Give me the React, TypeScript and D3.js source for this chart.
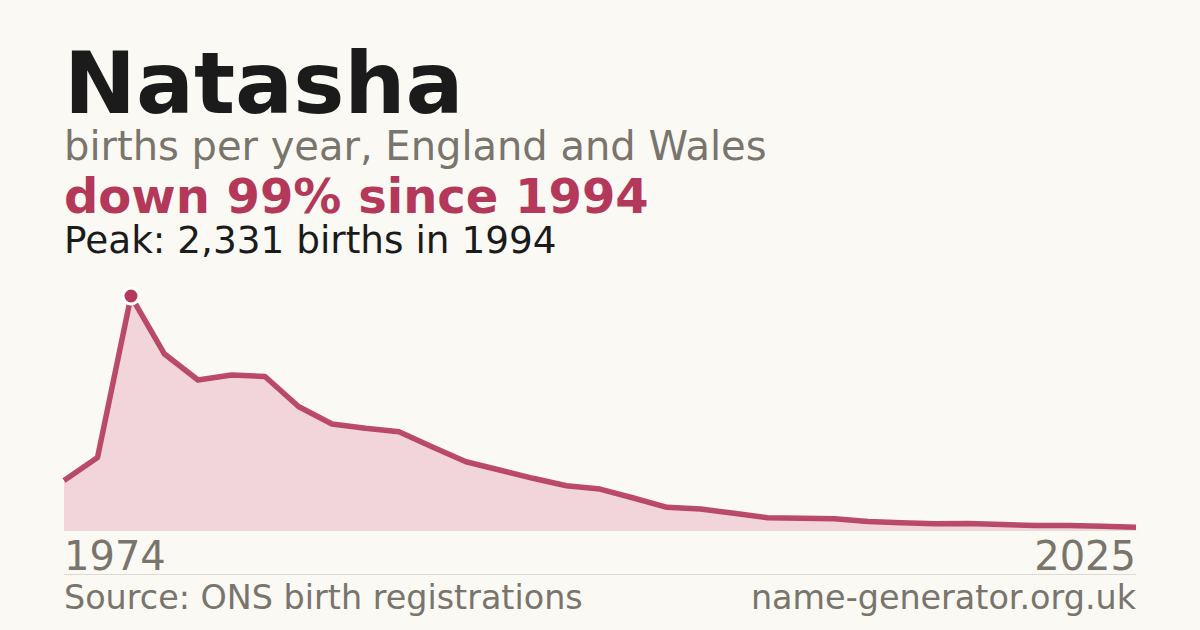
import React from "react";
import * as d3 from "d3";

const years: number[] = [
  1974, 1984, 1994, 1996, 1997, 1998, 1999, 2000, 2001, 2002, 2003, 2004,
  2005, 2006, 2007, 2008, 2009, 2010, 2011, 2012, 2013, 2014, 2015, 2016,
  2017, 2018, 2019, 2020, 2021, 2022, 2023, 2024, 2025,
];
const births: number[] = [
  493, 722, 2331, 1753, 1494, 1544, 1529, 1230, 1056, 1013, 979, 827,
  680, 598, 515, 441, 408, 319, 226, 209, 166, 123, 117, 112,
  85, 72, 62, 65, 55, 45, 45, 37, 27,
];

const name = "Natasha";
const subtitle = "births per year, England and Wales";
const headline = "down 99% since 1994";
const peakText = "Peak: 2,331 births in 1994";
const sourceText = "Source: ONS birth registrations";
const siteText = "name-generator.org.uk";

const W = 1200;
const H = 630;
const left = 64;
const right = 1136;
const bottom = 530;
const top = 296;

const RED = "#b3385a";
const GREY = "#79746c";
const FONT = "'DejaVu Sans', sans-serif";

export default function App() {
  const x = d3.scalePoint<number>().domain(years).range([left, right]);
  const y = d3
    .scaleLinear()
    .domain([0, d3.max(births) as number])
    .range([bottom, top]);
  const pts = years.map((yr, i) => ({ yr, v: births[i] }));
  const area = d3
    .area<{ yr: number; v: number }>()
    .x((d) => x(d.yr) as number)
    .y0(bottom)
    .y1((d) => y(d.v));
  const line = d3
    .line<{ yr: number; v: number }>()
    .x((d) => x(d.yr) as number)
    .y((d) => y(d.v));
  const peakIdx = births.indexOf(d3.max(births) as number);
  const peak = pts[peakIdx];

  return (
    <svg
      width={W}
      height={H}
      viewBox={`0 0 ${W} ${H}`}
      style={{ position: "fixed", left: 0, top: 0, display: "block" }}
      fontFamily={FONT}
    >
      <rect x={0} y={0} width={W} height={H} fill="#faf9f4" />
      <text x={64} y={113} fontSize={86} fontWeight="bold" fill="#1b1b1b">
        {name}
      </text>
      <text x={64} y={160} fontSize={40} fill={GREY}>
        {subtitle}
      </text>
      <text x={64} y={213} fontSize={48} fontWeight="bold" fill={RED}>
        {headline}
      </text>
      <text x={64} y={253} fontSize={37.4} fill="#1b1b1b">
        {peakText}
      </text>

      <path d={area(pts) ?? ""} fill="#f2d5db" />
      <line x1={left} x2={right} y1={bottom + 0.5} y2={bottom + 0.5} stroke="#e4e0d8" strokeWidth={1} />
      <path
        d={line(pts) ?? ""}
        fill="none"
        stroke={RED}
        strokeWidth={5.5}
        strokeLinejoin="round"
        strokeOpacity={0.9}
      />
      <circle
        cx={x(peak.yr) as number}
        cy={y(peak.v)}
        r={8}
        fill={RED}
        stroke="#ffffff"
        strokeWidth={3}
      />

      <text x={left} y={570} fontSize={40} fill={GREY}>
        {years[0]}
      </text>
      <text x={right} y={570} fontSize={40} fill={GREY} textAnchor="end">
        {years[years.length - 1]}
      </text>
      <line x1={left} x2={right} y1={574.5} y2={574.5} stroke="#dedad2" strokeWidth={1} />
      <text x={left} y={609} fontSize={33.4} fill={GREY}>
        {sourceText}
      </text>
      <text x={right} y={609} fontSize={33.4} fill={GREY} textAnchor="end">
        {siteText}
      </text>
    </svg>
  );
}
